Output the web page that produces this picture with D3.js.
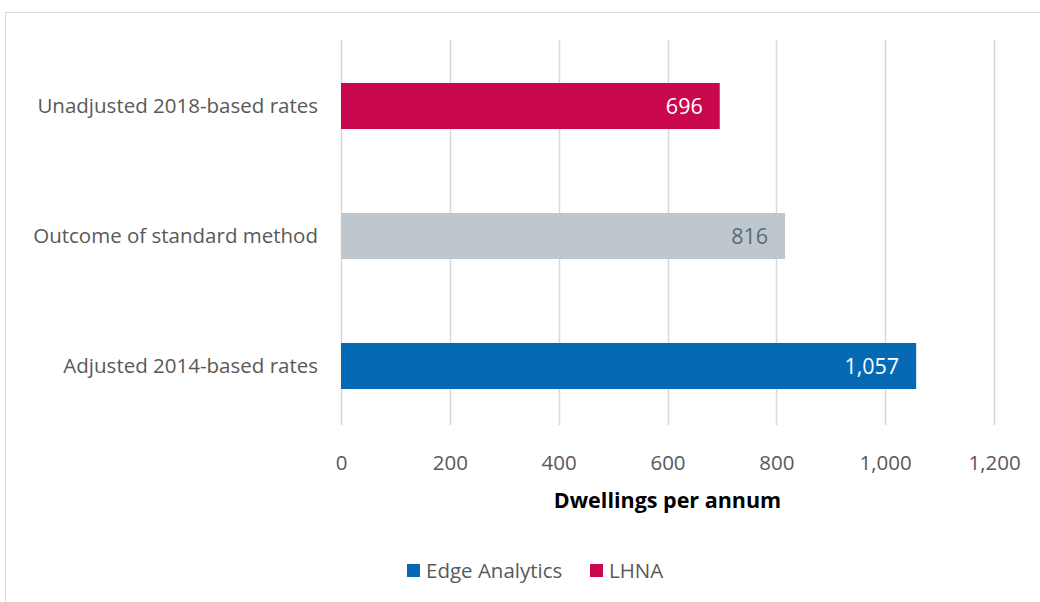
<!DOCTYPE html>
<html>
<head>
<meta charset="utf-8">
<script src="https://cdn.jsdelivr.net/npm/d3@7"></script>
<style>
  html, body { margin: 0; padding: 0; background: #fff; }
  svg { display: block; font-family: "Open Sans", Lato, sans-serif; }
</style>
</head>
<body>
<svg id="chart" width="1040" height="602"></svg>
<script>
// Housing need scenarios (dwellings per annum)
const categories = ["Unadjusted 2018-based rates", "Outcome of standard method", "Adjusted 2014-based rates"];
const values = [696, 816, 1057];
const sources = ["LHNA", "Standard", "Edge Analytics"];
const xTicks = [0, 200, 400, 600, 800, 1000, 1200];
const legendItems = ["Edge Analytics", "LHNA"];

const fills = { "LHNA": "#C8074F", "Standard": "#BDC7CD", "Edge Analytics": "#056AB3" };
const labelFills = { "LHNA": "#ffffff", "Standard": "#5B6B78", "Edge Analytics": "#ffffff" };
const font = "'Open Sans', Lato, sans-serif";

const svg = d3.select("#chart");

// outer frame
svg.append("rect")
  .attr("x", 5.5).attr("y", 12.5)
  .attr("width", 1100).attr("height", 700)
  .attr("fill", "none").attr("stroke", "#D9D9D9").attr("stroke-width", 1);

const plot = { left: 341, right: 994, top: 40, bottom: 425 };

const x = d3.scaleLinear().domain([0, 1200]).range([plot.left, plot.right]);
const y = d3.scaleBand().domain(categories).range([41, 431])
  .paddingInner(0.646).paddingOuter(0.323);

// vertical gridlines
svg.append("g")
  .selectAll("line").data(xTicks).join("line")
  .attr("x1", d => Math.round(x(d)) + 0.5).attr("x2", d => Math.round(x(d)) + 0.5)
  .attr("y1", plot.top).attr("y2", plot.bottom)
  .attr("stroke", "#D9D9D9").attr("stroke-width", 1.5);

// x axis tick labels
const xAxis = d3.axisBottom(x).tickValues(xTicks).tickSize(0).tickPadding(0)
  .tickFormat(d3.format(","));
const gx = svg.append("g").attr("transform", `translate(0,${plot.bottom + 45})`).call(xAxis);
gx.select(".domain").remove();
gx.selectAll("text").attr("font-size", 20.5).attr("fill", "#595959")
  .attr("font-family", font).attr("dy", 0);

// y axis category labels
const yAxis = d3.axisLeft(y).tickSize(0).tickPadding(23);
const gy = svg.append("g").attr("transform", `translate(${plot.left},0)`).call(yAxis);
gy.select(".domain").remove();
gy.selectAll("text").attr("font-size", 20.5).attr("fill", "#595959")
  .attr("font-family", font);

// bars
const rows = categories.map((c, i) => ({ cat: c, value: values[i], src: sources[i] }));
svg.append("g").selectAll("rect").data(rows).join("rect")
  .attr("x", x(0)).attr("y", d => y(d.cat))
  .attr("width", d => x(d.value) - x(0)).attr("height", y.bandwidth())
  .attr("fill", d => fills[d.src]);

// value labels inside bar ends
svg.append("g").selectAll("text").data(rows).join("text")
  .attr("x", d => x(d.value) - 17)
  .attr("y", d => y(d.cat) + y.bandwidth() / 2)
  .attr("dy", "0.36em").attr("text-anchor", "end")
  .attr("font-size", 21.5).attr("fill", d => labelFills[d.src])
  .text(d => d3.format(",")(d.value));

// axis title
svg.append("text")
  .attr("x", (plot.left + plot.right) / 2).attr("y", 508)
  .attr("text-anchor", "middle").attr("font-size", 21.5).attr("font-weight", "bold")
  .attr("fill", "#000").text("Dwellings per annum");

// legend
const legend = svg.append("g").attr("transform", "translate(407,571)");
const legendX = [0, 183];
legendItems.forEach((name, i) => {
  const g = legend.append("g").attr("transform", `translate(${legendX[i]},0)`);
  g.append("rect").attr("x", 0).attr("y", -7).attr("width", 13).attr("height", 13)
    .attr("fill", fills[name]);
  g.append("text").attr("x", 19).attr("y", 0).attr("dy", "0.36em")
    .attr("font-size", 20.5).attr("fill", "#595959").text(name);
});
</script>
</body>
</html>
